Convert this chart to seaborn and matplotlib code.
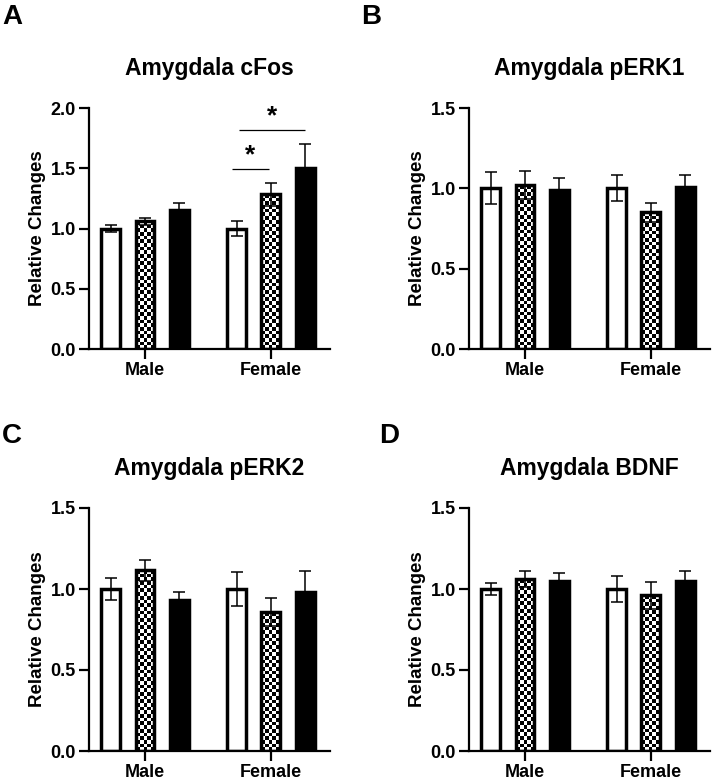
import numpy as np
import pandas as pd
import matplotlib
matplotlib.use("Agg")
import matplotlib.pyplot as plt
import seaborn as sns

# ---------------- data ----------------
sexes = ["Male", "Female"]
groups = ["Group 1", "Group 2", "Group 3"]
panel_letters = ["A", "B", "C", "D"]
titles = ["Amygdala cFos", "Amygdala pERK1", "Amygdala pERK2", "Amygdala BDNF"]
y_label = "Relative Changes"
y_max = [2.0, 1.5, 1.5, 1.5]

# means: [male g1, g2, g3], [female g1, g2, g3]
cfos_male = [1.00, 1.06, 1.155]
cfos_female = [1.00, 1.283, 1.50]
cfos_male_sem = [0.025, 0.03, 0.055]
cfos_female_sem = [0.06, 0.095, 0.205]

perk1_male = [1.00, 1.02, 0.99]
perk1_female = [1.00, 0.85, 1.01]
perk1_male_sem = [0.10, 0.085, 0.075]
perk1_female_sem = [0.08, 0.06, 0.07]

perk2_male = [1.00, 1.115, 0.935]
perk2_female = [1.00, 0.857, 0.98]
perk2_male_sem = [0.065, 0.065, 0.045]
perk2_female_sem = [0.105, 0.085, 0.13]

bdnf_male = [1.00, 1.06, 1.05]
bdnf_female = [1.00, 0.96, 1.05]
bdnf_male_sem = [0.04, 0.05, 0.05]
bdnf_female_sem = [0.08, 0.083, 0.06]

# significance annotations for panel A: (x_start, x_end, y_line, label)
sig_x_start = [0.69, 0.746]
sig_x_end = [0.985, 1.27]
sig_y = [1.494, 1.817]
sig_label = ["*", "*"]

panels = [
    (cfos_male, cfos_female, cfos_male_sem, cfos_female_sem),
    (perk1_male, perk1_female, perk1_male_sem, perk1_female_sem),
    (perk2_male, perk2_female, perk2_male_sem, perk2_female_sem),
    (bdnf_male, bdnf_female, bdnf_male_sem, bdnf_female_sem),
]

# ---------------- style ----------------
sns.set_style("ticks")
plt.rcParams["font.family"] = ["Liberation Sans", "DejaVu Sans"]
plt.rcParams["font.weight"] = "bold"
plt.rcParams["axes.labelweight"] = "bold"
plt.rcParams["axes.titleweight"] = "bold"
plt.rcParams["text.color"] = "black"
plt.rcParams["axes.labelcolor"] = "black"
plt.rcParams["axes.titlecolor"] = "black"
plt.rcParams["xtick.color"] = "black"
plt.rcParams["ytick.color"] = "black"
plt.rcParams["xtick.labelcolor"] = "black"
plt.rcParams["ytick.labelcolor"] = "black"

W, H = 714, 782
fig = plt.figure(figsize=(W / 100, H / 100), dpi=100)

# axes rectangles in pixels: left, top(=y max), right, bottom(=0)
rects = [
    (89, 108, 330, 349),
    (469, 108, 710, 349),
    (89, 508, 330, 751),
    (469, 508, 710, 751),
]
letter_pos = [(2, 4), (361, 4), (2, 423), (379, 423)]

for k, (m, f, ms, fs) in enumerate(panels):
    l, t, r, b = rects[k]
    ax = fig.add_axes([l / W, 1 - b / H, (r - l) / W, (b - t) / H])

    df = pd.DataFrame({
        "sex": [s for s in sexes for _ in groups],
        "group": groups * 2,
        "value": list(m) + list(f),
    })
    sns.barplot(data=df, x="sex", y="value", hue="group", order=sexes,
                hue_order=groups, palette=["white", "white", "black"],
                saturation=1, edgecolor="black", linewidth=2.5,
                width=0.817, gap=0.45, errorbar=None, legend=False, ax=ax)

    ax.set_xlim(-0.445, 1.47)
    ax.set_ylim(0, y_max[k])

    sems = {0: ms, 1: fs}
    bar_containers = list(ax.containers)
    for gi, cont in enumerate(bar_containers):
        for si, bar in enumerate(cont.patches):
            xc = bar.get_x() + bar.get_width() / 2
            hgt = bar.get_height()
            e = sems[si][gi]
            ax.errorbar([xc], [hgt], yerr=[[e], [e]], fmt="none",
                        ecolor="black", elinewidth=1.1, capsize=4.5,
                        capthick=1.1, zorder=3)
            if gi == 1:
                # checkerboard fill clipped to the bar
                bar.set_facecolor("none")
                x0 = bar.get_x()
                x1 = x0 + bar.get_width()
                p0 = ax.transData.transform((x0, 0))
                p1 = ax.transData.transform((x1, hgt))
                nc = max(1, int(round((p1[0] - p0[0]) / 3.7)))
                nr = max(1, int(round((p1[1] - p0[1]) / 3.7)))
                img = np.indices((nr, nc)).sum(axis=0) % 2
                im = ax.imshow(img, extent=(x0, x1, 0, hgt), origin="lower",
                               cmap="gray", vmin=0, vmax=1, aspect="auto",
                               interpolation="nearest", zorder=0.9)
                im.set_clip_path(bar)

    ax.set_xlim(-0.445, 1.47)
    ax.set_ylim(0, y_max[k])
    ax.set_yticks(np.arange(0, y_max[k] + 0.01, 0.5))
    ax.set_yticklabels([f"{v:.1f}" for v in np.arange(0, y_max[k] + 0.01, 0.5)])

    sns.despine(ax=ax)
    for sp in ("left", "bottom"):
        ax.spines[sp].set_linewidth(1.6)
        ax.spines[sp].set_color("black")
    ax.tick_params(axis="both", direction="out", length=7.5, width=1.6,
                   colors="black", labelsize=13)
    ax.tick_params(axis="y", pad=2)
    ax.tick_params(axis="x", pad=2)
    for lab in ax.get_xticklabels() + ax.get_yticklabels():
        lab.set_fontweight("bold")
        lab.set_color("black")

    ax.set_xlabel("")
    ax.set_ylabel(y_label, fontsize=13.5, fontweight="bold", labelpad=3,
                  color="black")
    ax.set_title(titles[k], fontsize=16.5, fontweight="bold", pad=24,
                 color="black")

    lx, ly = letter_pos[k]
    fig.text(lx / W, 1 - ly / H, panel_letters[k], fontsize=20,
             fontweight="bold", ha="left", va="top", color="black")

    if k == 0:
        for xs, xe, yy, lab in zip(sig_x_start, sig_x_end, sig_y, sig_label):
            ax.plot([xs, xe], [yy, yy], color="black", lw=0.9,
                    solid_capstyle="butt", clip_on=False)
            ax.text((xs + xe) / 2, yy + 0.11, lab, ha="center", va="center",
                    fontsize=19, fontweight="bold", clip_on=False,
                    color="black")

fig.savefig("out.png", dpi=100)
